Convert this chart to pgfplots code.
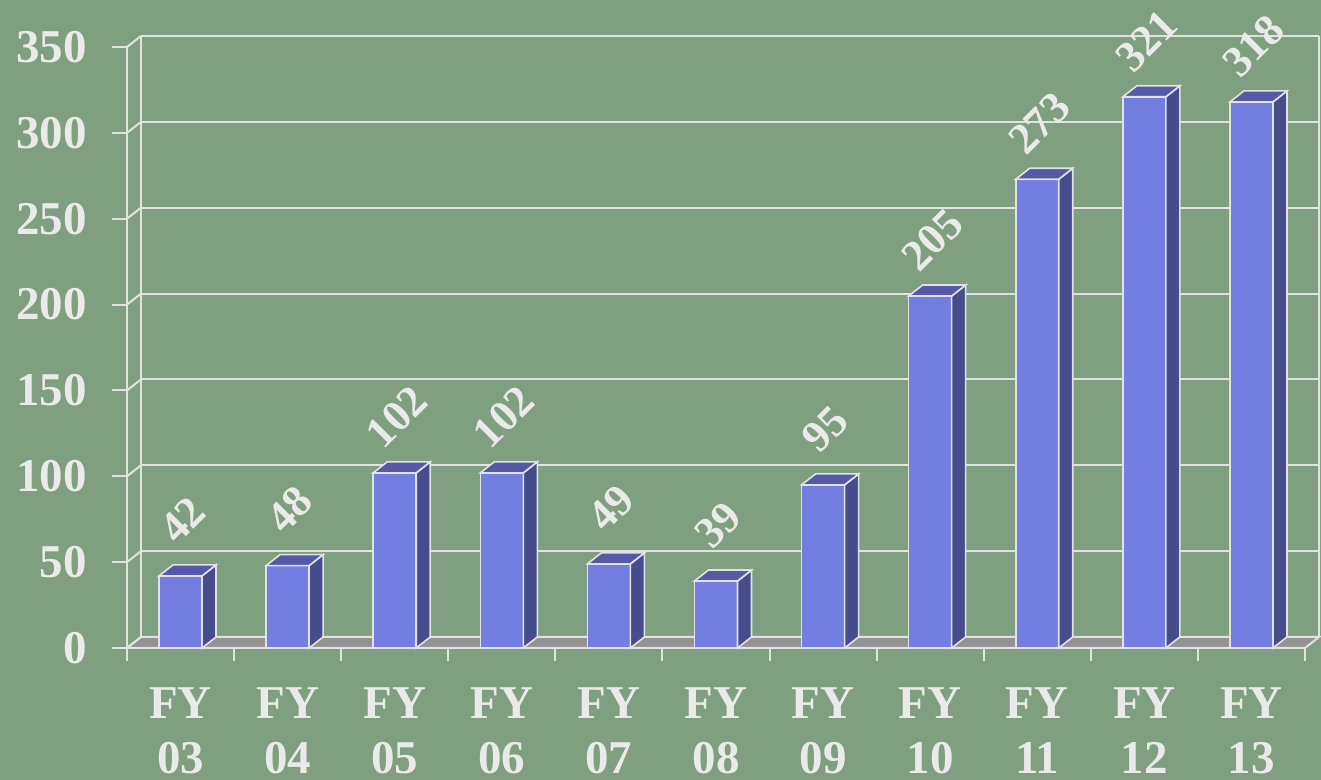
\documentclass[border=0pt]{standalone}
\usepackage{fontspec}
\setmainfont{Liberation Serif}
\usepackage{pgfplots}
\pgfplotsset{compat=1.18}
\usepackage{pgfplotstable}
\definecolor{bgcol}{RGB}{128,159,128}
\definecolor{frontcol}{RGB}{116,126,224}
\definecolor{sidecol}{RGB}{71,77,140}
\definecolor{topcol}{RGB}{84,90,168}
\definecolor{floorcol}{RGB}{146,146,146}
\definecolor{linecol}{RGB}{226,226,226}
\definecolor{txtcol}{RGB}{234,234,234}
\pgfdeclareplotmark{empty}{}
\newdimen\hdim
\newdimen\hdimb
\pgfplotstableread{
x val
0 42
1 48
2 102
3 102
4 49
5 39
6 95
7 205
8 273
9 321
10 318
}\data
\newcommand\bigfont{\fontsize{23.5}{27.5}\selectfont\bfseries}
\newcommand\valfont{\fontsize{22}{25}\selectfont\bfseries}
\begin{document}
\begin{tikzpicture}
\path[use as bounding box, fill=bgcol] (0,0) rectangle (660.5pt,390pt);
\begin{axis}[at={(63.5pt,66pt)}, anchor=south west, scale only axis,
  width=589pt, height=300.5pt,
  xmin=-0.5, xmax=10.5, ymin=0, ymax=350, clip=false,
  axis lines*=left, axis line style={linecol, line width=1pt},
  tick align=outside,
  ytick={0,50,...,350}, major tick length=7.5pt, minor tick length=6.5pt,
  ytick style={linecol, line width=1pt},
  xtick={0,...,10},
  xticklabels={{FY\\03},{FY\\04},{FY\\05},{FY\\06},{FY\\07},{FY\\08},{FY\\09},{FY\\10},{FY\\11},{FY\\12},{FY\\13}},
  major x tick style={draw=none},
  minor xtick={-0.5,0.5,...,10.5},
  minor x tick style={linecol, line width=1pt},
  ticklabel style={font=\bigfont, text=txtcol},
  xticklabel style={align=center, inner sep=0pt, yshift=-12pt},
  yticklabel style={xshift=-9pt},
  /pgf/number format/assume math mode=true,
]
% back wall
\pgfplotsinvokeforeach{50,100,...,350}{\draw[linecol,line width=1pt] ([shift={(7pt,5.5pt)}]axis cs:-0.5,#1) -- ([shift={(7pt,5.5pt)}]axis cs:10.5,#1);}
\draw[linecol,line width=1pt] ([shift={(7pt,5.5pt)}]axis cs:-0.5,0) -- ([shift={(7pt,5.5pt)}]axis cs:-0.5,350);
\draw[linecol,line width=1pt] ([shift={(7pt,5.5pt)}]axis cs:10.5,0) -- ([shift={(7pt,5.5pt)}]axis cs:10.5,350);
% floor
\filldraw[fill=floorcol, draw=linecol, line width=1pt] (axis cs:-0.5,0) -- (axis cs:10.5,0) -- ++(7pt,5.5pt) -- ([shift={(7pt,5.5pt)}]axis cs:-0.5,0) -- cycle;
\pgfplotsinvokeforeach{0,50,...,350}{\draw[linecol,line width=1pt] (axis cs:-0.5,#1) -- ++(7pt,5.5pt);}
% bar sides, tops and value labels
\addplot[scatter, only marks, mark=empty, point meta=y,
  point meta min=0, point meta max=350,
  scatter/@pre marker code/.code={%
    \hdim=\pgfplotspointmetatransformed pt\relax
    \hdim=0.3005\hdim
    \hdimb=5.5pt\relax
    \advance\hdimb by -\hdim
    \pgfsetlinewidth{0.8pt}%
    \pgfsetstrokecolor{linecol}%
    \pgfsetfillcolor{sidecol}%
    \pgfpathmoveto{\pgfqpoint{10.75pt}{0pt}}%
    \pgfpathlineto{\pgfqpoint{17.75pt}{5.5pt}}%
    \pgfpathlineto{\pgfqpoint{17.75pt}{\hdimb}}%
    \pgfpathlineto{\pgfqpoint{10.75pt}{-\hdim}}%
    \pgfpathclose
    \pgfusepath{fill,stroke}%
    \pgfsetfillcolor{topcol}%
    \pgfpathmoveto{\pgfqpoint{-10.75pt}{0pt}}%
    \pgfpathlineto{\pgfqpoint{10.75pt}{0pt}}%
    \pgfpathlineto{\pgfqpoint{17.75pt}{5.5pt}}%
    \pgfpathlineto{\pgfqpoint{-3.75pt}{5.5pt}}%
    \pgfpathclose
    \pgfusepath{fill,stroke}%
    \node[rotate=45, font=\valfont, text=txtcol, inner sep=0pt] at (1pt,28pt) {\pgfmathprintnumber{\pgfplotspointmeta}};
  },
  scatter/@post marker code/.code={}]
  table[x=x, y=val] {\data};
% bar fronts
\addplot[ybar, bar width=21.5pt, fill=frontcol, draw=linecol, line width=0.8pt] table[x=x, y=val] {\data};
\end{axis}
\end{tikzpicture}
\end{document}
